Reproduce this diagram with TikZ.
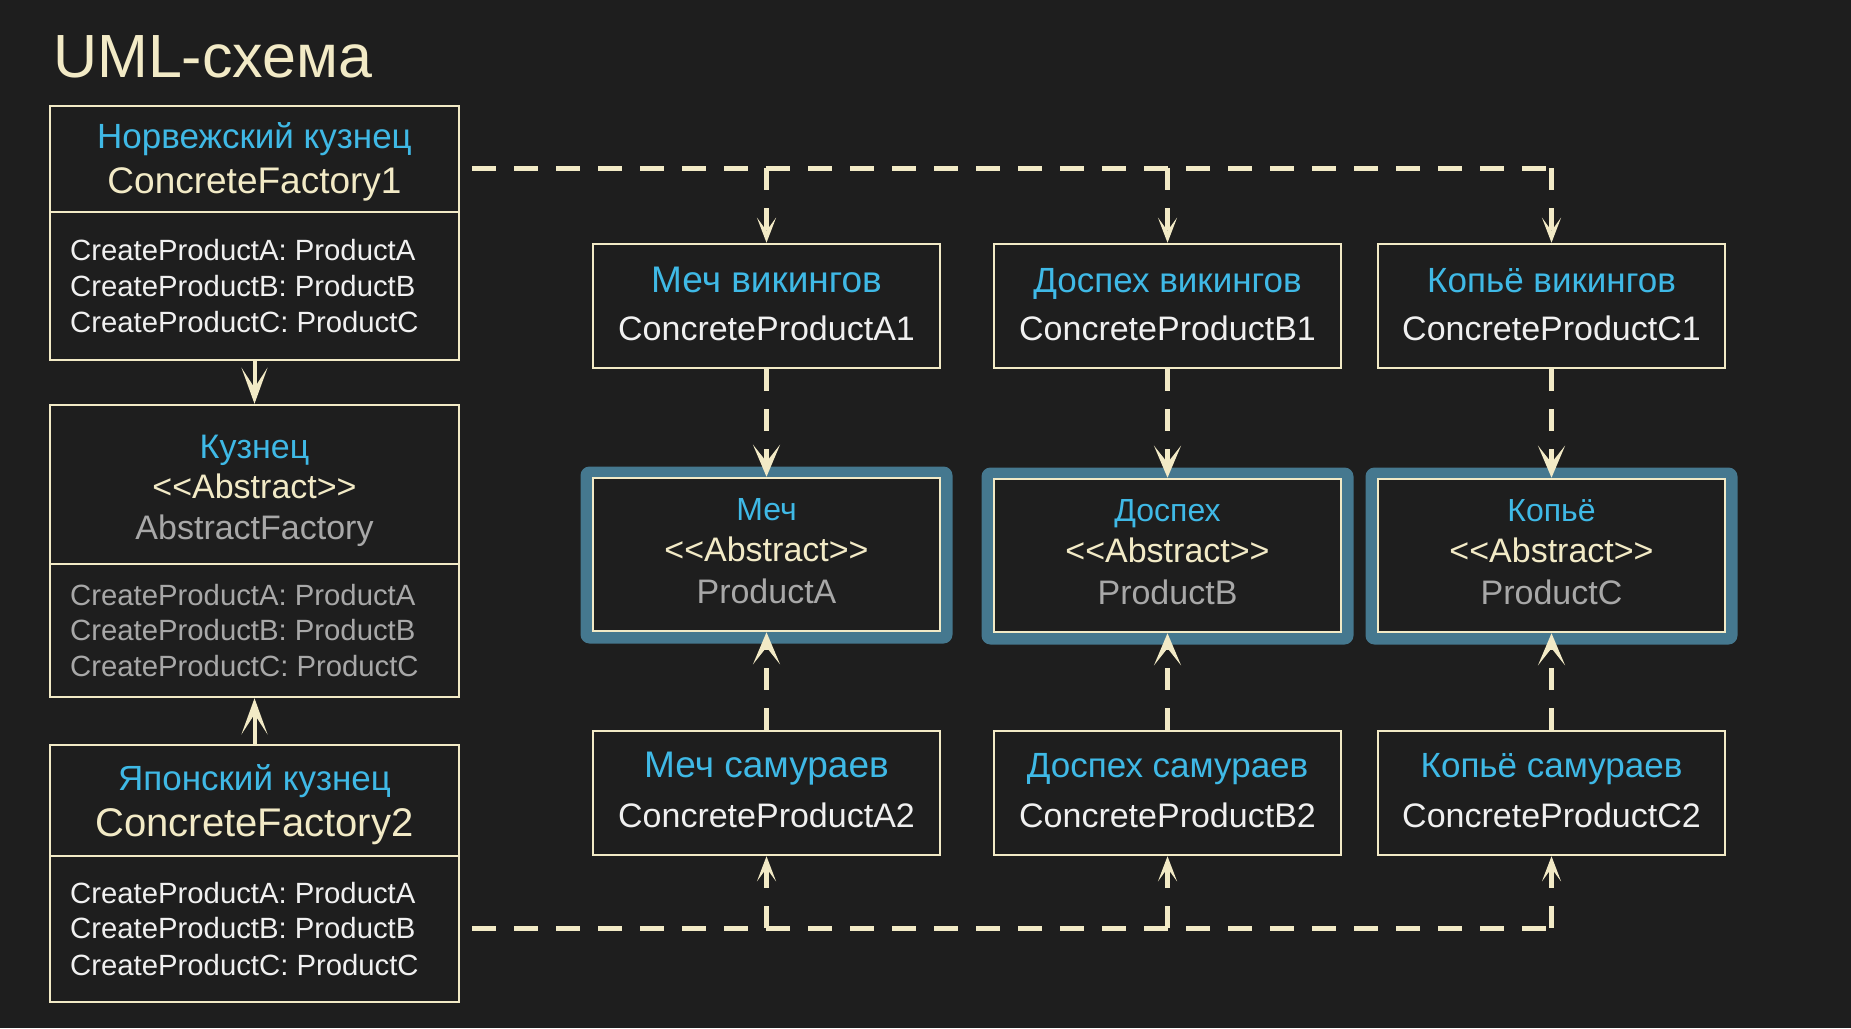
\documentclass[tikz,border=0pt]{standalone}
\usepackage{fontspec}
\setmainfont{Liberation Sans}
\usetikzlibrary{arrows.meta}
\definecolor{bg}{HTML}{1E1E1E}
\definecolor{cream}{HTML}{F2EAC6}
\definecolor{nameblue}{HTML}{3FB9E6}
\definecolor{graytxt}{HTML}{A8A8A8}
\definecolor{whitetxt}{HTML}{F0F0F0}
\definecolor{framecol}{HTML}{45788F}
\newcommand{\stereo}{<{}<Abstract>{}>}
\begin{document}
\begin{tikzpicture}[x=1pt,y=-1pt,
  box/.style={draw=cream, line width=2.5pt, fill=bg, inner sep=0pt},
  absframe/.style={fill=framecol, rounded corners=9pt, inner sep=0pt, minimum width=372pt, minimum height=177pt},
  txt/.style={anchor=base, inner sep=0pt, font=\fontsize{34}{40}\selectfont},
  bname/.style={txt, text=nameblue, font=\fontsize{35}{40}\selectfont},
  meth/.style={anchor=base west, inner sep=0pt, font=\fontsize{29.3}{34}\selectfont},
  dline/.style={draw=cream, line width=5pt, dash pattern=on 24pt off 18pt},
  dvert/.style={draw=cream, line width=4.5pt, dash pattern=on 22pt off 18pt},
  solidarr/.style={draw=cream, line width=4pt, -{Stealth[length=36pt,width=26pt,inset=20pt]}},
  bigtip/.style={-{Stealth[length=32pt,width=27pt,inset=17pt]}},
  smalltip/.style={-{Stealth[length=25pt,width=19pt,inset=13pt]}},
  prod/.style={box, minimum width=347pt, minimum height=124pt},
  absbox/.style={box, minimum width=347pt, minimum height=153pt},
]
\fill[bg] (0,0) rectangle (1851,1028);
\useasboundingbox (0,0) rectangle (1851,1028);

% title
\node[anchor=base west, inner sep=0pt, text=cream, font=\fontsize{61}{70}\selectfont] (title) at (53,77) {UML-схема};

% left column boxes
\node[box, minimum width=409pt, minimum height=254pt] (f1) at (254.5,233) {};
\draw[draw=cream, line width=2.5pt] (50,212) -- (459,212);
\node[bname] (f1name) at (254.5,148) {Норвежский кузнец};
\node[txt, text=cream, font=\fontsize{37}{44}\selectfont] (f1cls) at (254.5,193) {ConcreteFactory1};
\node[meth, text=whitetxt] (f1m1) at (70,260) {CreateProductA: ProductA};
\node[meth, text=whitetxt] (f1m2) at (70,296) {CreateProductB: ProductB};
\node[meth, text=whitetxt] (f1m3) at (70,332) {CreateProductC: ProductC};

\node[box, minimum width=409pt, minimum height=292pt] (af) at (254.5,551) {};
\draw[draw=cream, line width=2.5pt] (50,564) -- (459,564);
\node[txt, text=nameblue] (afname) at (254.5,458) {Кузнец};
\node[txt, text=cream] (afster) at (254.5,498) {\stereo};
\node[txt, text=graytxt] (afcls) at (254.5,539) {AbstractFactory};
\node[meth, text=graytxt] (afm1) at (70,605) {CreateProductA: ProductA};
\node[meth, text=graytxt] (afm2) at (70,640) {CreateProductB: ProductB};
\node[meth, text=graytxt] (afm3) at (70,676) {CreateProductC: ProductC};

\node[box, minimum width=409pt, minimum height=257pt] (f2) at (254.5,873.5) {};
\draw[draw=cream, line width=2.5pt] (50,856) -- (459,856);
\node[bname] (f2name) at (254.5,790) {Японский кузнец};
\node[txt, text=cream, font=\fontsize{40}{46}\selectfont] (f2cls) at (254.5,836) {ConcreteFactory2};
\node[meth, text=whitetxt] (f2m1) at (70,903) {CreateProductA: ProductA};
\node[meth, text=whitetxt] (f2m2) at (70,938) {CreateProductB: ProductB};
\node[meth, text=whitetxt] (f2m3) at (70,975) {CreateProductC: ProductC};

\draw[solidarr] (f1.south) -- (af.north);
\draw[solidarr] (f2.north) -- (af.south);

% top row products
\node[prod] (a1) at (766.5,306) {};
\node[prod] (b1) at (1167.5,306) {};
\node[prod] (c1) at (1551.5,306) {};
\node[bname, font=\fontsize{37}{42}\selectfont] (a1name) at (766.5,292) {Меч викингов};
\node[txt, text=whitetxt] (a1cls) at (766.5,340) {ConcreteProductA1};
\node[bname] (b1name) at (1167.5,292) {Доспех викингов};
\node[txt, text=whitetxt] (b1cls) at (1167.5,340) {ConcreteProductB1};
\node[bname] (c1name) at (1551.5,292) {Копьё викингов};
\node[txt, text=whitetxt] (c1cls) at (1551.5,340) {ConcreteProductC1};

% abstract products
\node[absframe] (fa) at (766.5,555) {};
\node[absframe] (fb) at (1167.5,556) {};
\node[absframe] (fc) at (1551.5,556) {};
\node[absbox] (pa) at (766.5,554.5) {};
\node[absbox] (pb) at (1167.5,555.5) {};
\node[absbox] (pc) at (1551.5,555.5) {};
\node[txt, text=nameblue, font=\fontsize{32}{38}\selectfont] (paname) at (766.5,520) {Меч};
\node[txt, text=cream] (paster) at (766.5,561) {\stereo};
\node[txt, text=graytxt] (pacls) at (766.5,603) {ProductA};
\node[txt, text=nameblue, font=\fontsize{32}{38}\selectfont] (pbname) at (1167.5,521) {Доспех};
\node[txt, text=cream] (pbster) at (1167.5,562) {\stereo};
\node[txt, text=graytxt] (pbcls) at (1167.5,604) {ProductB};
\node[txt, text=nameblue, font=\fontsize{32}{38}\selectfont] (pcname) at (1551.5,521) {Копьё};
\node[txt, text=cream] (pcster) at (1551.5,562) {\stereo};
\node[txt, text=graytxt] (pccls) at (1551.5,604) {ProductC};

% bottom row products
\node[prod] (a2) at (766.5,793) {};
\node[prod] (b2) at (1167.5,793) {};
\node[prod] (c2) at (1551.5,793) {};
\node[bname, font=\fontsize{37}{42}\selectfont] (a2name) at (766.5,777) {Меч самураев};
\node[txt, text=whitetxt] (a2cls) at (766.5,827) {ConcreteProductA2};
\node[bname] (b2name) at (1167.5,777) {Доспех самураев};
\node[txt, text=whitetxt] (b2cls) at (1167.5,827) {ConcreteProductB2};
\node[bname] (c2name) at (1551.5,777) {Копьё самураев};
\node[txt, text=whitetxt] (c2cls) at (1551.5,827) {ConcreteProductC2};

% connectors: factory 1 -> top row
\coordinate (f1out) at (472,168);
\coordinate (ja1) at (a1.north |- f1out);
\coordinate (jb1) at (b1.north |- f1out);
\coordinate (jc1) at (c1.north |- f1out);
\draw[dline] (f1out) -- (jc1);
\draw[dvert, smalltip] (ja1) -- (a1.north);
\draw[dvert, smalltip] (jb1) -- (b1.north);
\draw[dvert, smalltip] (jc1) -- (c1.north);

% factory 2 -> bottom row
\coordinate (f2out) at (472,928);
\coordinate (ja2) at (a2.south |- f2out);
\coordinate (jb2) at (b2.south |- f2out);
\coordinate (jc2) at (c2.south |- f2out);
\draw[dline] (f2out) -- (jc2);
\draw[dvert, smalltip] (ja2) -- (a2.south);
\draw[dvert, smalltip] (jb2) -- (b2.south);
\draw[dvert, smalltip] (jc2) -- (c2.south);

% realisations
\draw[dvert, bigtip] (a1.south) -- (pa.north);
\draw[dvert, bigtip] (b1.south) -- (pb.north);
\draw[dvert, bigtip] (c1.south) -- (pc.north);
\draw[dvert, bigtip] (a2.north) -- (pa.south);
\draw[dvert, bigtip] (b2.north) -- (pb.south);
\draw[dvert, bigtip] (c2.north) -- (pc.south);
\end{tikzpicture}
\end{document}
